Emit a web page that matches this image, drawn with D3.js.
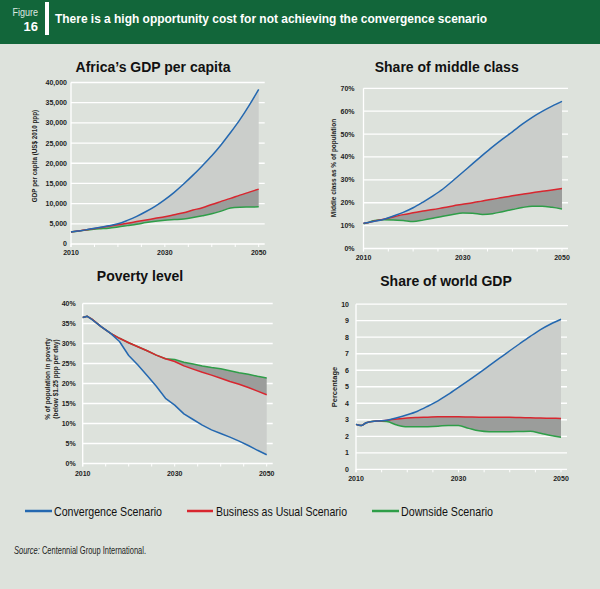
<!DOCTYPE html>
<html><head><meta charset="utf-8">
<script src="https://cdn.jsdelivr.net/npm/d3@7"></script>
<style>body{margin:0;background:#dde2dc;}svg{display:block;}</style>
</head><body>
<script>
// ---- data ----
const years = [2010, 2011, 2012, 2014, 2016, 2018, 2020, 2022, 2024, 2026, 2028, 2030, 2032, 2034, 2036, 2038, 2040, 2042, 2044, 2046, 2048, 2050];
const scenarios = ["Convergence Scenario", "Business as Usual Scenario", "Downside Scenario"];

const gdpConv = [3000, 3150, 3300, 3700, 4100, 4500, 5000, 5850, 6850, 8050, 9400, 11000, 12800, 14850, 17050, 19400, 21850, 24600, 27600, 30800, 34400, 38300];
const gdpBau  = [3000, 3150, 3300, 3650, 4000, 4400, 4750, 5150, 5550, 5950, 6350, 6750, 7250, 7750, 8400, 9000, 9800, 10550, 11300, 12100, 12850, 13600];
const gdpDown = [3000, 3120, 3250, 3550, 3750, 3900, 4200, 4550, 4900, 5300, 5650, 5900, 6050, 6200, 6550, 7000, 7500, 8150, 8900, 9100, 9150, 9200];

const midConv = [11.0, 11.4, 11.8, 12.7, 14.2, 15.8, 17.8, 20.3, 23.0, 26.0, 29.6, 33.3, 37.1, 40.8, 44.4, 47.8, 51.0, 54.3, 57.3, 59.9, 62.2, 64.3];
const midBau  = [11.0, 11.4, 11.9, 12.8, 13.8, 14.8, 15.6, 16.4, 17.0, 17.8, 18.6, 19.3, 20.0, 20.8, 21.5, 22.3, 23.0, 23.7, 24.4, 25.0, 25.6, 26.2];
const midDown = [10.8, 11.4, 12.1, 12.6, 12.5, 12.2, 11.8, 12.4, 13.2, 14.1, 14.9, 15.5, 15.4, 14.9, 15.2, 16.1, 17.0, 17.9, 18.5, 18.5, 18.0, 17.3];

const povConv = [36.5, 36.8, 36.0, 34.2, 32.6, 30.5, 27.0, 24.6, 22.0, 19.3, 16.3, 14.6, 12.4, 11.0, 9.6, 8.4, 7.5, 6.6, 5.6, 4.5, 3.3, 2.2];
const povBau  = [36.5, 36.8, 36.1, 34.2, 32.6, 31.3, 30.2, 29.2, 28.2, 27.1, 26.2, 25.5, 24.4, 23.6, 22.8, 22.1, 21.3, 20.5, 19.8, 19.0, 18.1, 17.2];
const povDown = [36.5, 36.8, 36.1, 34.2, 32.6, 31.3, 30.2, 29.2, 28.2, 27.1, 26.2, 26.0, 25.3, 24.9, 24.4, 24.0, 23.7, 23.2, 22.7, 22.3, 21.8, 21.4];

const wConv = [2.72, 2.65, 2.82, 2.92, 2.97, 3.12, 3.30, 3.52, 3.82, 4.15, 4.54, 4.96, 5.39, 5.83, 6.28, 6.73, 7.18, 7.62, 8.05, 8.46, 8.80, 9.09];
const wBau  = [2.72, 2.65, 2.82, 2.92, 2.97, 3.05, 3.11, 3.14, 3.16, 3.18, 3.18, 3.18, 3.17, 3.16, 3.16, 3.15, 3.15, 3.13, 3.12, 3.10, 3.09, 3.08];
const wDown = [2.72, 2.65, 2.82, 2.92, 2.89, 2.68, 2.57, 2.57, 2.58, 2.61, 2.66, 2.65, 2.48, 2.33, 2.28, 2.28, 2.28, 2.29, 2.30, 2.18, 2.05, 1.94];

const xTickYears = [2010, 2030, 2050];
const gdpTicks = [0, 5000, 10000, 15000, 20000, 25000, 30000, 35000, 40000];
const midTicks = [0, 10, 20, 30, 40, 50, 60, 70];
const povTicks = [0, 5, 10, 15, 20, 25, 30, 35, 40];
const wTicks = [0, 1, 2, 3, 4, 5, 6, 7, 8, 9, 10];

// ---- style ----
const C = {bg:"#dde2dc", blue:"#2468b0", red:"#d8262f", green:"#2e9e48", light:"#cbcecb", dark:"#9b9d9b", text:"#222"};
const tickFont = "'Liberation Sans', Arial, sans-serif";
const narrow = "'Liberation Sans Narrow','Liberation Sans',Arial,sans-serif";

const svg = d3.select("body").append("svg").attr("width", 600).attr("height", 589);
svg.append("rect").attr("width", 600).attr("height", 589).attr("fill", C.bg);

// header
svg.append("rect").attr("width", 600).attr("height", 44).attr("fill", "#12663a");
svg.append("text").attr("transform", "translate(38,16) scale(0.82,1)").attr("text-anchor", "end")
  .attr("font-family", narrow).attr("font-size", 11)
  .attr("fill", "#dfe9e2").text("Figure");
svg.append("text").attr("x", 38).attr("y", 30.5).attr("text-anchor", "end")
  .attr("font-family", tickFont).attr("font-weight", "bold").attr("font-size", 13)
  .attr("fill", "#fff").text("16");
svg.append("rect").attr("x", 45).attr("y", 2).attr("width", 4).attr("height", 33).attr("fill", "#fff");
svg.append("text").attr("x", 55).attr("y", 22.5).attr("font-family", tickFont).attr("font-weight", "bold")
  .attr("font-size", 13).attr("fill", "#fff").attr("textLength", 432).attr("lengthAdjust", "spacingAndGlyphs")
  .text("There is a high opportunity cost for not achieving the convergence scenario");

function panel(cfg) {
  const x = d3.scaleLinear().domain([2010, 2050]).range(cfg.xr);
  const y = d3.scaleLinear().domain(cfg.yd).range(cfg.yr);
  const g = svg.append("g");
  g.selectAll("line.grid").data(cfg.ticks).join("line")
    .attr("x1", cfg.xr[0]).attr("x2", cfg.xr[1] + 6)
    .attr("y1", d => y(d)).attr("y2", d => y(d))
    .attr("stroke", "#fff").attr("stroke-width", 1.3);
  g.append("line").attr("x1", cfg.xr[0]).attr("x2", cfg.xr[0])
    .attr("y1", y(cfg.yd[1])).attr("y2", y(cfg.yd[0]) + 3)
    .attr("stroke", "#fff").attr("stroke-width", 1.3);
  g.selectAll("line.xt").data(d3.range(2010, 2051, 5)).join("line")
    .attr("x1", d => x(d)).attr("x2", d => x(d))
    .attr("y1", y(cfg.yd[0])).attr("y2", y(cfg.yd[0]) + 3)
    .attr("stroke", "#fff").attr("stroke-width", 1);
  g.selectAll("text.yl").data(cfg.ticks).join("text")
    .attr("x", cfg.xr[0] - cfg.gap).attr("y", d => y(d)).attr("dy", "0.35em")
    .attr("text-anchor", "end").attr("font-family", tickFont).attr("font-weight", "bold")
    .attr("font-size", 7).attr("fill", C.text).text(cfg.fmt);
  g.selectAll("text.xl").data(xTickYears).join("text")
    .attr("x", d => x(d)).attr("y", y(cfg.yd[0]) + cfg.xlab)
    .attr("text-anchor", "middle").attr("font-family", tickFont).attr("font-weight", "bold")
    .attr("font-size", 7).attr("fill", C.text).text(d => d);
  g.append("text").attr("x", cfg.title[1]).attr("y", cfg.title[2]).attr("text-anchor", "middle")
    .attr("font-family", tickFont).attr("font-weight", "bold").attr("font-size", 14)
    .attr("fill", "#111").text(cfg.title[0]);
  cfg.ytitle.forEach((t, i) => {
    g.append("text").attr("transform", `translate(${cfg.ytx[i]},${cfg.yty}) rotate(-90)`)
      .attr("text-anchor", "middle").attr("font-family", tickFont).attr("font-weight", "bold")
      .attr("font-size", cfg.ytfs).attr("fill", C.text).text(t);
  });
  const data = years.map((yr, i) => ({yr, c: cfg.s[0][i], b: cfg.s[1][i], d: cfg.s[2][i]}));
  const curve = cfg.curve;
  g.append("path").datum(data).attr("fill", C.light)
    .attr("d", d3.area().curve(curve).x(d => x(d.yr)).y0(d => y(d.b)).y1(d => y(d.c)));
  g.append("path").datum(data).attr("fill", C.dark)
    .attr("d", d3.area().curve(curve).x(d => x(d.yr)).y0(d => y(d.d)).y1(d => y(d.b)));
  [["d", C.green], ["b", C.red], ["c", C.blue]].forEach(([k, col]) => {
    g.append("path").datum(data).attr("fill", "none").attr("stroke", col).attr("stroke-width", 1.5)
      .attr("stroke-linejoin", "round")
      .attr("d", d3.line().curve(curve).x(d => x(d.yr)).y(d => y(d[k])));
  });
}

panel({xr:[71, 258.7], yd:[0, 40000], yr:[244, 82.5], ticks:gdpTicks, fmt:d3.format(","), gap:4, xlab:11,
  title:["Africa\u2019s GDP per capita", 153, 71.5], ytitle:["GDP per capita (US$ 2010 ppp)"], ytx:[37], yty:156, ytfs:6.3,
  s:[gdpConv, gdpBau, gdpDown], curve:d3.curveMonotoneX});
panel({xr:[363.5, 562], yd:[0, 70], yr:[248.5, 88.3], ticks:midTicks, fmt:d => d + "%", gap:9, xlab:11,
  title:["Share of middle class", 446.7, 71.5], ytitle:["Middle class as % of population"], ytx:[336], yty:168, ytfs:6.5,
  s:[midConv, midBau, midDown], curve:d3.curveMonotoneX});
panel({xr:[82.7, 266.7], yd:[0, 40], yr:[463.5, 303.5], ticks:povTicks, fmt:d => d + "%", gap:7, xlab:12,
  title:["Poverty level", 140, 281], ytitle:["% of population in poverty", "(below $1.25 ppp per day)"], ytx:[50, 57.5], yty:379, ytfs:6.5,
  s:[povConv, povBau, povDown], curve:d3.curveLinear});
panel({xr:[356, 561], yd:[0, 10], yr:[469.3, 304.2], ticks:wTicks, fmt:d => d, gap:7, xlab:12,
  title:["Share of world GDP", 446, 286], ytitle:["Percentage"], ytx:[337], yty:387, ytfs:7.5,
  s:[wConv, wBau, wDown], curve:d3.curveMonotoneX});

// legend
const legX = [[25, 52, 54, 108], [187, 213, 216, 131], [372, 399, 401, 92]];
const legCol = [C.blue, C.red, C.green];
scenarios.forEach((s, i) => {
  const [l0, l1, tx, tw] = legX[i];
  svg.append("line").attr("x1", l0).attr("x2", l1).attr("y1", 511).attr("y2", 511)
    .attr("stroke", legCol[i]).attr("stroke-width", 2.5);
  svg.append("text").attr("x", tx).attr("y", 515.5)
    .attr("font-family", narrow).attr("font-size", 13)
    .attr("fill", "#111").attr("textLength", tw).attr("lengthAdjust", "spacingAndGlyphs").text(s);
});

// source (single text, horizontally condensed)
const src = svg.append("text").attr("transform", "translate(14,553.5) scale(0.75,1)").attr("font-family", narrow)
  .attr("font-size", 10).attr("fill", "#222");
src.append("tspan").attr("font-style", "italic").text("Source:");
src.append("tspan").text(" Centennial Group International.");
</script>
</body></html>
